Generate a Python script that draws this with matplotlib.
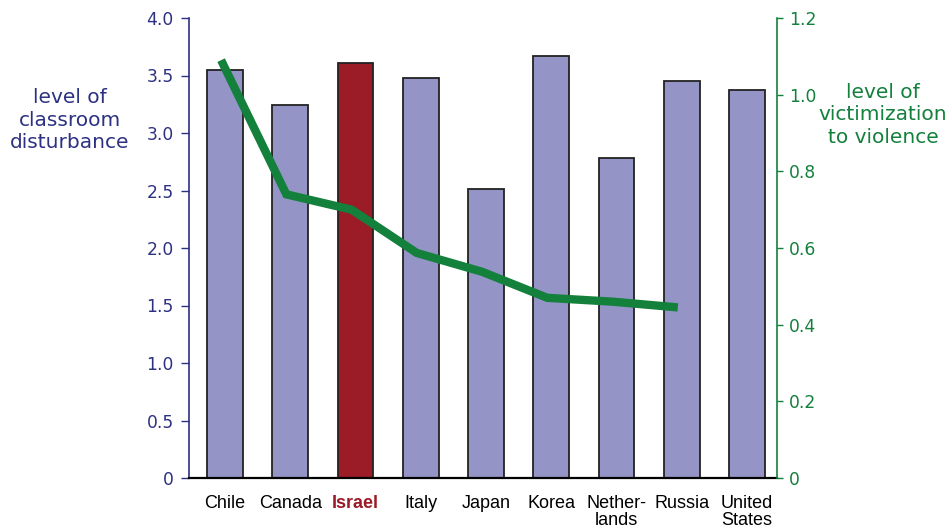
import matplotlib.pyplot as plt
import numpy as np

countries = ['Chile', 'Canada', 'Israel', 'Italy', 'Japan', 'Korea',
             'Nether-\nlands', 'Russia', 'United\nStates']
disturbance = [3.55, 3.24, 3.61, 3.48, 2.51, 3.67, 2.78, 3.45, 3.37]
victimization = [1.09, 0.74, 0.70, 0.587, 0.538, 0.47, 0.46, 0.445, np.nan]
left_ticks = [0, 0.5, 1.0, 1.5, 2.0, 2.5, 3.0, 3.5, 4.0]
left_labels = ['0', '0.5', '1.0', '1.5', '2.0', '2.5', '3.0', '3.5', '4.0']
right_ticks = [0, 0.2, 0.4, 0.6, 0.8, 1.0, 1.2]
right_labels = ['0', '0.2', '0.4', '0.6', '0.8', '1.0', '1.2']

navy = '#2d3182'
green = '#13803c'
bar_col = '#9494c6'
israel_col = '#9b1b26'

fig = plt.figure(figsize=(9.49, 5.31), dpi=100)
ax = fig.add_axes([189/949, 1 - 478/531, (777-189)/949, (478-18)/531])
ax2 = ax.twinx()

x = np.arange(len(countries))
colors = [israel_col if c == 'Israel' else bar_col for c in countries]
ax.bar(x, disturbance, width=0.55, color=colors, edgecolor='#222222', linewidth=1.3, zorder=2)
ax.set_xlim(-0.552, 8.46)
ax.set_ylim(0, 4.0)
ax.set_yticks(left_ticks)
ax.set_yticklabels(left_labels, fontsize=12.3, color=navy, family='DejaVu Sans')
ax.tick_params(axis='y', colors=navy, length=6, width=1, pad=5)
ax.set_xticks(x)
ax.set_xticklabels(countries, fontsize=13, family='Liberation Sans', linespacing=1.0)
ax.tick_params(axis='x', length=0, pad=12)
for lbl in ax.get_xticklabels():
    if lbl.get_text() == 'Israel':
        lbl.set_color(israel_col)
        lbl.set_fontweight('bold')
ax.spines['top'].set_visible(False)
ax.spines['right'].set_visible(False)
ax.spines['left'].set_color(navy)
ax.spines['left'].set_linewidth(1.2)
ax.spines['bottom'].set_color('black')
ax.spines['bottom'].set_linewidth(1.6)

ax2.plot(x - 0.06, victimization, color=green, linewidth=6,
         solid_capstyle='butt', solid_joinstyle='miter', zorder=3)
ax2.set_ylim(0, 1.2)
ax2.set_yticks(right_ticks)
ax2.set_yticklabels(right_labels, fontsize=12.3, color=green, family='DejaVu Sans')
ax2.tick_params(axis='y', colors=green, length=4.5, width=1, pad=4)
for s in ['top', 'left', 'bottom']:
    ax2.spines[s].set_visible(False)
ax2.spines['right'].set_color(green)
ax2.spines['right'].set_linewidth(1.2)

fig.text(70/949, 1 - 120/531, 'level of\nclassroom\ndisturbance', ha='center', va='center',
         fontsize=14.5, color=navy, linespacing=1.25)
fig.text(883/949, 1 - 115/531, 'level of\nvictimization\nto violence', ha='center', va='center',
         fontsize=14.5, color=green, linespacing=1.25)

fig.savefig('out.png', dpi=100)
